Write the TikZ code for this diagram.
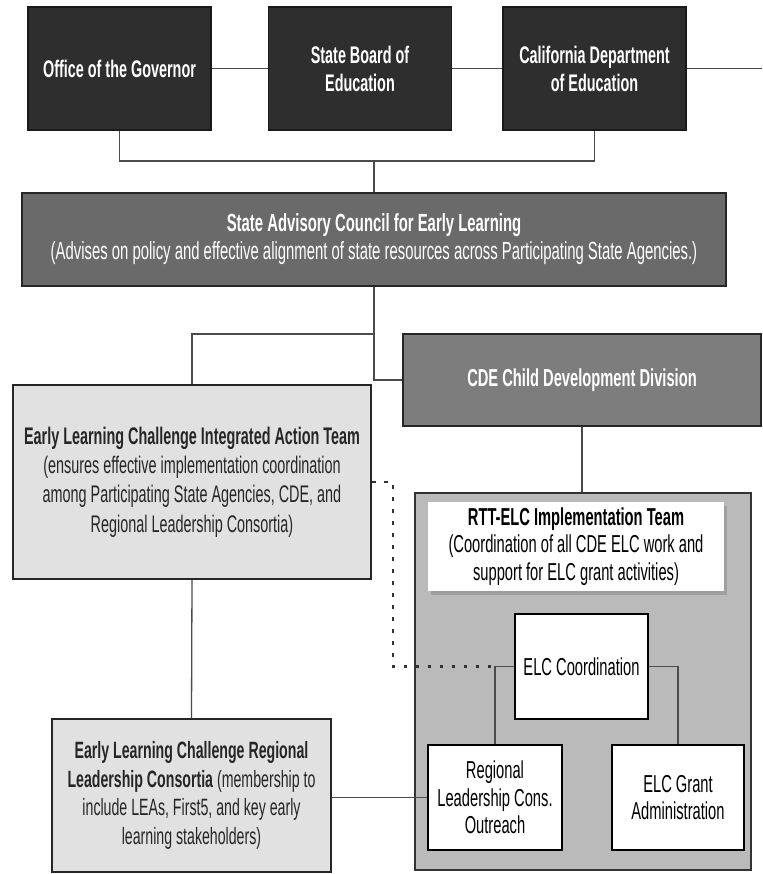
\documentclass[tikz,border=0pt]{standalone}
\usepackage{fontspec}
\setmainfont{Liberation Sans}[FakeStretch=0.6]
\usetikzlibrary{shadows}
\definecolor{govdark}{RGB}{46,46,46}
\definecolor{councilgray}{RGB}{106,106,106}
\definecolor{cddgray}{RGB}{125,125,125}
\definecolor{teamlight}{RGB}{225,225,225}
\definecolor{rttgray}{RGB}{186,186,186}
\definecolor{linkgray}{RGB}{75,75,75}

\begin{document}
\begin{tikzpicture}[x=1pt, y=-1pt,
    agency/.style={rectangle, fill=govdark, draw=black!90, line width=1.5pt, text=white, font=\fontsize{24}{28}\selectfont\bfseries, align=center, minimum width=183pt, minimum height=123pt, inner sep=0pt},
    council/.style={rectangle, fill=councilgray, draw=black!85, line width=2pt, text=white, align=center, inner sep=0pt, font=\fontsize{24.8}{28}\selectfont},
    team/.style={rectangle, fill=teamlight, draw=black!85, line width=2.2pt, text=black!85, align=center, inner sep=0pt, font=\fontsize{24}{29.3}\selectfont},
    unit/.style={rectangle, fill=white, draw=black, line width=1.8pt, align=center, inner sep=0pt, font=\fontsize{24.5}{27.5}\selectfont},
    link/.style={linkgray, line width=1.3pt},
    dotlink/.style={black!80, line width=2.6pt, dash pattern=on 3.5pt off 8.5pt}
]
\useasboundingbox (0,0) rectangle (762,874);

% Top agencies
\node[agency] (gov) at (119.5,68.5) {Office of the Governor};
\node[agency] (sbe) at (360,68.5) {State Board of\\Education};
\node[agency] (cde) at (594.5,68.5) {California Department\\of Education};
\coordinate (offright) at (762,68.5);
\coordinate (join) at (374,161);

% Advisory council
\node[council, minimum width=704pt, minimum height=93pt] (sacel) at (374,239.5) {\textbf{State Advisory Council for Early Learning}\\(Advises on policy and effective alignment of state resources across Participating State Agencies.)};
\coordinate (split) at (374,334);

% Child development division
\node[council, fill=cddgray, minimum width=358pt, minimum height=92pt, font=\fontsize{24.5}{28}\selectfont\bfseries] (cdd) at (582,380) {CDE Child Development Division};

% Integrated action team
\node[team, minimum width=358pt, minimum height=194pt] (elc) at (192,482) {\textbf{Early Learning Challenge Integrated Action Team}\\(ensures effective implementation coordination\\among Participating State Agencies, CDE, and\\Regional Leadership Consortia)};

% Regional consortia
\node[team, minimum width=279pt, minimum height=153pt, font=\fontsize{23.6}{28.5}\selectfont] (regional) at (191.5,795.5) {\textbf{Early Learning Challenge Regional}\\\textbf{Leadership Consortia} (membership to\\include LEAs, First5, and key early\\learning stakeholders)};

% RTT-ELC team
\node[rectangle, fill=rttgray, draw=black!80, line width=2.2pt, minimum width=336pt, minimum height=377pt] (rttbox) at (583,681.5) {};
\node[unit, draw=none, drop shadow={opacity=0.45, shadow xshift=3pt, shadow yshift=-4pt}, minimum width=296pt, minimum height=89pt] (rtt) at (576,546.5) {\textbf{RTT-ELC Implementation Team}\\(Coordination of all CDE ELC work and\\support for ELC grant activities)};
\node[unit, minimum width=133pt, minimum height=105pt] (coord) at (581.5,666.5) {ELC Coordination};
\node[unit, minimum width=134pt, minimum height=105pt] (rlc) at (495,797.5) {Regional\\Leadership Cons.\\Outreach};
\node[unit, minimum width=132pt, minimum height=105pt] (grant) at (678,797.5) {ELC Grant\\Administration};
\coordinate (dotbend) at (393,666.5);

% Connectors
\draw[link] (gov) -- (sbe);
\draw[link] (sbe) -- (cde);
\draw[link] (cde) -- (offright);
\draw[link] (gov.south) |- (join) -| (cde.south);
\draw[link] (join) -- (sacel.north);
\draw[link] (sacel.south) |- (cdd.west);
\draw[link] (split) -| (elc.north);
\draw[link] (cdd.south) -- (cdd.south |- rttbox.north);
\draw[link] (elc.south) -- (regional.north);
\draw[link] (regional.east |- rlc.west) -- (rlc.west);
\draw[link] (coord.west) -| (rlc.north);
\draw[link] (coord.east) -| (grant.north);
\draw[dotlink] (elc.east) -| (dotbend) -- (dotbend -| rlc.north);

\end{tikzpicture}
\end{document}
